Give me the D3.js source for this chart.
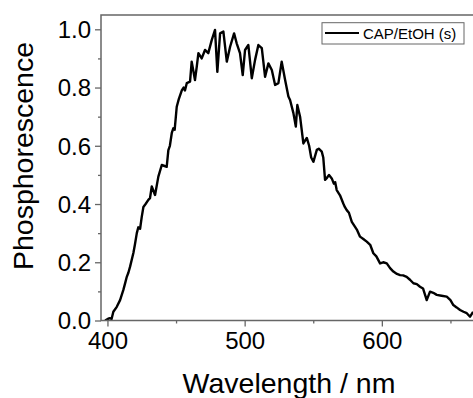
<!DOCTYPE html>
<html><head><meta charset="utf-8">
<script src="https://cdn.jsdelivr.net/npm/d3@7"></script>
<style>body{margin:0;background:#fff}svg{display:block}text{font-family:"Liberation Sans",Arial,sans-serif}</style>
</head><body><svg id="c" width="473" height="398"></svg>
<script>
const wavelength = [398.3,400.5,401.9,403.0,404.3,406.8,409.2,411.6,413.0,414.1,415.3,416.5,418.9,420.0,421.4,422.5,423.8,425.0,426.2,427.8,429.8,431.0,432.3,434.7,437.1,439.6,443.2,444.4,445.5,446.9,448.0,449.0,450.5,452.0,454.2,455.5,456.5,457.8,460.2,461.4,463.8,465.1,466.3,468.7,471.1,473.5,476.0,478.4,480.1,482.1,484.5,487.0,489.4,492.3,494.2,496.6,498.6,500.3,502.7,505.2,507.6,510.0,512.5,514.9,517.3,519.8,522.2,524.6,527.0,529.5,531.9,533.1,535.5,537.3,538.4,540.4,542.8,545.3,547.0,548.5,550.1,552.6,554.0,556.2,557.3,558.6,560.0,561.5,563.5,565.0,566.0,567.1,569.5,571.9,573.0,574.4,576.0,578.1,580.0,582.0,584.1,586.5,589.0,591.5,593.8,596.0,598.7,601.0,603.6,606.0,608.4,611.0,613.3,615.5,618.1,620.5,623.0,625.5,627.8,630.0,632.7,635.1,637.5,640.0,643.5,647.3,650.0,652.1,654.5,657.0,659.5,661.9,664.3,666.5];
const phosphorescence = [0.00,0.006,0.008,0.005,0.03,0.047,0.07,0.105,0.13,0.15,0.165,0.185,0.232,0.26,0.30,0.32,0.315,0.356,0.39,0.40,0.414,0.42,0.46,0.431,0.494,0.534,0.528,0.585,0.60,0.644,0.66,0.655,0.734,0.76,0.79,0.80,0.79,0.815,0.82,0.889,0.826,0.872,0.918,0.90,0.929,0.918,0.963,0.998,0.854,0.986,0.992,0.889,0.94,0.986,0.952,0.918,0.843,0.929,0.946,0.832,0.895,0.946,0.935,0.837,0.883,0.86,0.809,0.815,0.889,0.826,0.769,0.757,0.713,0.666,0.74,0.70,0.608,0.627,0.60,0.56,0.545,0.586,0.59,0.58,0.56,0.483,0.49,0.50,0.488,0.47,0.475,0.448,0.43,0.402,0.39,0.379,0.37,0.339,0.325,0.31,0.288,0.28,0.271,0.26,0.231,0.22,0.196,0.20,0.196,0.18,0.168,0.16,0.156,0.155,0.150,0.14,0.128,0.125,0.116,0.11,0.07,0.099,0.095,0.088,0.085,0.082,0.07,0.053,0.045,0.036,0.03,0.025,0.013,0.03];
const xMajor = [400,500,600];
const xMinor = [450,550,650];
const yMajor = [0.0,0.2,0.4,0.6,0.8,1.0];
const yMinor = [0.1,0.3,0.5,0.7,0.9];
const seriesName = "CAP/EtOH (s)";

const svg = d3.select("#c");
const L=101, T=15, B=320.5, R=480;
const x = d3.scaleLinear().domain([395.3, 395.3+(R-L)/1.372]).range([L,R]);
const y = d3.scaleLinear().domain([0,1]).range([B, 29.3]);
const frame = "#666";

svg.append("clipPath").attr("id","cp").append("rect").attr("x",L).attr("y",T).attr("width",R-L).attr("height",B-T);

const data = wavelength.map((w,i)=>[w,phosphorescence[i]]);
svg.append("path").datum(data).attr("clip-path","url(#cp)")
  .attr("fill","none").attr("stroke","#000").attr("stroke-width",2.4).attr("stroke-linejoin","round")
  .attr("d", d3.line().x(d=>x(d[0])).y(d=>y(d[1])));

svg.append("rect").attr("x",L).attr("y",T).attr("width",R-L).attr("height",B-T)
  .attr("fill","none").attr("stroke",frame).attr("stroke-width",1.5);

const gx = svg.append("g").attr("transform",`translate(0,${B})`);
gx.call(d3.axisBottom(x).tickValues(xMajor).tickSize(6).tickFormat(d3.format("d")));
const gxm = svg.append("g").attr("transform",`translate(0,${B})`);
gxm.call(d3.axisBottom(x).tickValues(xMinor).tickSize(3).tickFormat(""));
const gy = svg.append("g").attr("transform",`translate(${L},0)`);
gy.call(d3.axisLeft(y).tickValues(yMajor).tickSize(6).tickFormat(d3.format(".1f")));
const gym = svg.append("g").attr("transform",`translate(${L},0)`);
gym.call(d3.axisLeft(y).tickValues(yMinor).tickSize(3).tickFormat(""));
[gx,gxm,gy,gym].forEach(g=>{
  g.select(".domain").remove();
  g.selectAll(".tick line").attr("stroke",frame).attr("stroke-width",1.3);
  g.selectAll("text").attr("fill","#000").style("font-size","24px").style("font-family","Liberation Sans, Arial, sans-serif");
});
gx.selectAll("text").attr("y",11).attr("dy","0.71em");
gy.selectAll("text").attr("x",-10).attr("dy","0.35em");

svg.append("text").attr("x",289).attr("y",393).attr("text-anchor","middle")
  .style("font-size","28.5px").text("Wavelength / nm");
svg.append("text").attr("transform","translate(33,156) rotate(-90)").attr("text-anchor","middle")
  .style("font-size","28.5px").text("Phosphorescence");

const lg = svg.append("g");
lg.append("rect").attr("x",322).attr("y",22.7).attr("width",142).attr("height",21.3)
  .attr("fill","#fff").attr("stroke",frame).attr("stroke-width",1);
lg.append("line").attr("x1",325).attr("x2",359).attr("y1",33).attr("y2",33).attr("stroke","#000").attr("stroke-width",2.2);
lg.append("text").attr("x",363).attr("y",38.5).style("font-size","15px").text(seriesName);
</script></body></html>
